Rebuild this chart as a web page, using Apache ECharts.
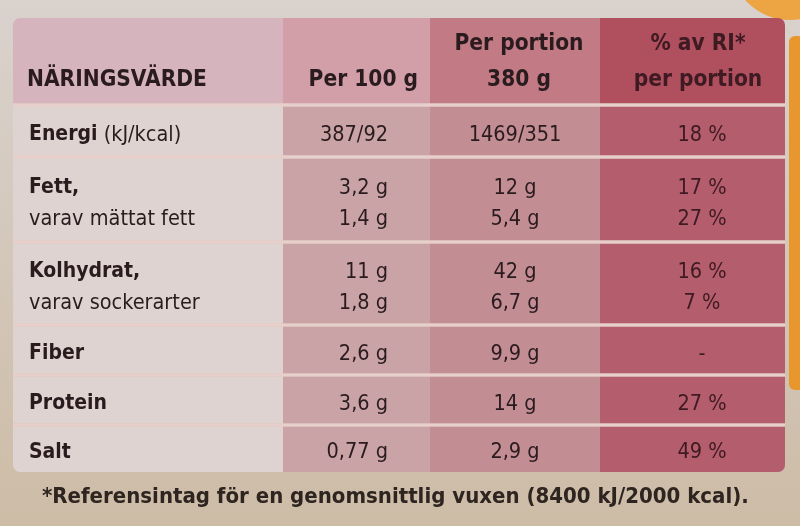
<!DOCTYPE html>
<html>
<head>
<meta charset="utf-8">
<script src="https://cdn.jsdelivr.net/npm/echarts@6/dist/echarts.min.js"></script>
<style>html,body{margin:0;padding:0;}#c{width:800px;height:526px;}</style>
</head>
<body>
<div id="c"></div>
<script>
// ---------- DATA ----------
const headerTop = ['', '', 'Per portion', '% av RI*'];
const headerBottom = ['NÄRINGSVÄRDE', 'Per 100 g', '380 g', 'per portion'];
const nutrients = ['Energi (kJ/kcal)', 'Fett,', 'varav mättat fett', 'Kolhydrat,', 'varav sockerarter', 'Fiber', 'Protein', 'Salt'];
const per100g = ['387/92', '3,2 g', '1,4 g', '11 g', '1,8 g', '2,6 g', '3,6 g', '0,77 g'];
const perPortion = ['1469/351', '12 g', '5,4 g', '42 g', '6,7 g', '9,9 g', '14 g', '2,9 g'];
const riPercent = ['18 %', '17 %', '27 %', '16 %', '7 %', '-', '27 %', '49 %'];
const footnote = '*Referensintag för en genomsnittlig vuxen (8400 kJ/2000 kcal).';

// ---------- LAYOUT (axis units = pixels of the 800x526 frame) ----------
const COL_EDGES = [13, 283, 430, 600, 785];
const ROW_EDGES = [18, 105, 157, 242, 325, 375, 425, 472];
const HEADER_LINE_Y = [44, 80];
const LINE_GAP = 31;
const GAP = 3;
const FONT = "'Liberation Sans Narrow','DejaVu Sans Condensed','Roboto Condensed','Noto Sans',sans-serif";
const TEXT_COLOR = '#2a1b1e';
const HEADER_COLORS = ['#d6b4be', '#d29ea8', '#c27a85', '#b04f5e'];
const BODY_COLORS = ['#dfd3d2', '#c9a3a5', '#c38d94', '#b45d6c'];
const VALUE_ANCHOR = [{x: 29, align: 'left'}, {x: 388, align: 'right'}, {x: 515, align: 'center'}, {x: 702, align: 'center'}];
const HEADER_ANCHOR = [{x: 27, align: 'left'}, {x: 418, align: 'right'}, {x: 519, align: 'center'}, {x: 698, align: 'center'}];

// group lines into table rows: a "varav" line belongs to the row before it
const lineRow = [];
let r = 0;
nutrients.forEach((n, i) => {
  if (i > 0 && !n.startsWith('varav')) r++;
  lineRow.push(r + 1);
});
const rowCount = ROW_EDGES.length - 1;

// cells
const cellData = [];
for (let row = 0; row < rowCount; row++) {
  for (let col = 0; col < 4; col++) {
    cellData.push([COL_EDGES[col], COL_EDGES[col + 1], ROW_EDGES[row], ROW_EDGES[row + 1], col, row]);
  }
}

// text items: [x, y, text, col, kind]
const textData = [];
for (let col = 0; col < 4; col++) {
  if (headerTop[col]) textData.push([HEADER_ANCHOR[col].x, HEADER_LINE_Y[0], headerTop[col], col, 'header']);
  textData.push([HEADER_ANCHOR[col].x, HEADER_LINE_Y[1], headerBottom[col], col, 'header']);
}
const columns = [nutrients, per100g, perPortion, riPercent];
nutrients.forEach((n, i) => {
  const row = lineRow[i];
  const linesInRow = lineRow.filter(v => v === row).length;
  const idx = lineRow.slice(0, i).filter(v => v === row).length;
  const center = (ROW_EDGES[row] + ROW_EDGES[row + 1]) / 2 + 4;
  const y = center + (idx - (linesInRow - 1) / 2) * LINE_GAP;
  for (let col = 0; col < 4; col++) {
    textData.push([VALUE_ANCHOR[col].x, y, columns[col][i], col, col === 0 ? (n.startsWith('varav') ? 'sub' : 'main') : 'value']);
  }
});

function labelText(t, kind) {
  if (kind === 'main') {
    const p = t.indexOf(' (');
    if (p > 0) return '{b|' + t.slice(0, p) + '}' + t.slice(p);
    return '{b|' + t + '}';
  }
  return t;
}

const chart = echarts.init(document.getElementById('c'), null, {renderer: 'canvas'});
chart.setOption({
  animation: false,
  backgroundColor: {
    type: 'linear', x: 0, y: 0, x2: 0, y2: 1,
    colorStops: [{offset: 0, color: '#d9d2cd'}, {offset: 1, color: '#cdbca6'}]
  },
  graphic: [
    {type: 'circle', shape: {cx: 790, cy: -40, r: 60}, style: {fill: '#eda443'}, z: -10, silent: true},
    {type: 'rect', shape: {x: 789, y: 36, width: 15, height: 354, r: 6}, style: {fill: '#e8962e'}, z: -10, silent: true}
  ],
  title: {
    text: footnote,
    left: 37, top: 481,
    textStyle: {fontFamily: FONT, fontSize: 22, fontWeight: 'bold', color: '#2e2420'}
  },
  grid: {left: 0, right: 0, top: 0, bottom: 0},
  xAxis: {type: 'value', min: 0, max: 800, show: false},
  yAxis: {type: 'value', min: 0, max: 526, inverse: true, show: false},
  series: [
    {
      type: 'custom',
      name: 'cells',
      silent: true,
      data: cellData,
      renderItem: function (params, api) {
        const x0 = api.value(0), x1 = api.value(1), y0 = api.value(2), y1 = api.value(3);
        const col = api.value(4), row = api.value(5);
        const p0 = api.coord([x0, y0]);
        const p1 = api.coord([x1, y1]);
        const g = GAP / 2;
        const rad = [
          (col === 0 && row === 0) ? 7 : 0,
          (col === 3 && row === 0) ? 7 : 0,
          (col === 3 && row === rowCount - 1) ? 7 : 0,
          (col === 0 && row === rowCount - 1) ? 7 : 0
        ];
        return {
          type: 'rect',
          shape: {x: p0[0], y: p0[1] + (row > 0 ? g : 0), width: p1[0] - p0[0], height: p1[1] - p0[1] - (row > 0 ? g : 0) - (row < rowCount - 1 ? g : 0), r: rad},
          style: {fill: row === 0 ? HEADER_COLORS[col] : BODY_COLORS[col]}
        };
      }
    },
    {
      type: 'custom',
      name: 'separators',
      silent: true,
      data: ROW_EDGES.slice(1, -1).map(v => [v]),
      renderItem: function (params, api) {
        const y = api.value(0);
        const a = api.coord([COL_EDGES[0], y]);
        const b = api.coord([COL_EDGES[COL_EDGES.length - 1], y]);
        return {
          type: 'rect',
          shape: {x: a[0], y: a[1] - GAP / 2, width: b[0] - a[0], height: GAP},
          style: {fill: '#e8cfcc'}
        };
      }
    },
    {
      type: 'custom',
      name: 'text',
      silent: true,
      data: textData,
      renderItem: function (params, api) {
        const item = textData[params.dataIndex];
        const p = api.coord([item[0], item[1]]);
        const col = item[3], kind = item[4];
        const bold = kind === 'header';
        return {
          type: 'text',
          style: {
            x: p[0], y: p[1],
            text: labelText(item[2], kind),
            align: kind === 'header' ? HEADER_ANCHOR[col].align : VALUE_ANCHOR[col].align,
            verticalAlign: 'middle',
            fill: col === 3 ? '#3e1a22' : TEXT_COLOR,
            fontFamily: FONT,
            fontSize: kind === 'header' ? 22.5 : 21.5,
            fontWeight: bold ? 'bold' : 'normal',
            rich: {b: {fontFamily: FONT, fontSize: 21, fontWeight: 'bold', fill: TEXT_COLOR}}
          }
        };
      }
    }
  ]
});
</script>
</body>
</html>
